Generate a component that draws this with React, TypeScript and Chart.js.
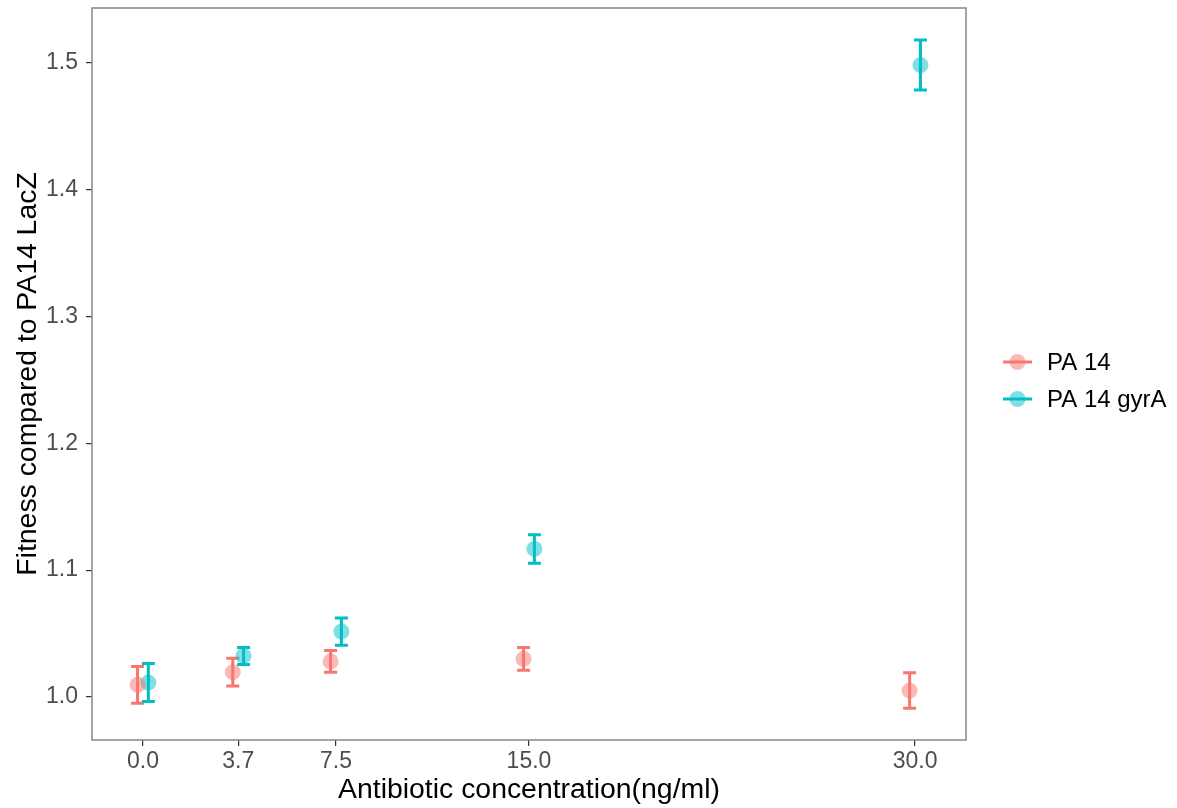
import React, { useEffect, useRef } from "react";
import { Chart, registerables } from "chart.js";
Chart.register(...registerables);

// ---- data ----
const concentrations = [0, 3.7, 7.5, 15, 30];
const xTickValues = [0, 3.7, 7.5, 15, 30];
const yTickValues = [1.0, 1.1, 1.2, 1.3, 1.4, 1.5];
const seriesNames = ["PA 14", "PA 14 gyrA"];
const pa14Mean = [1.0095, 1.0195, 1.028, 1.03, 1.005];
const pa14Err = [0.0145, 0.011, 0.0085, 0.009, 0.014];
const gyrAMean = [1.0113, 1.0323, 1.0515, 1.1167, 1.4984];
const gyrAErr = [0.015, 0.0067, 0.0107, 0.0112, 0.0197];
const dodge = [-0.21, 0.21];
const lineColors = ["#F8766D", "#00BFC4"];
const fillColors = ["rgba(248,118,109,0.5)", "rgba(0,191,196,0.5)"];

const FONT = "'Liberation Sans', Arial, Helvetica, sans-serif";

const errorBarPlugin = {
  id: "errorBars",
  beforeDatasetsDraw(chart: any) {
    const { ctx, scales } = chart;
    const xs = scales.x, ys = scales.y;
    chart.data.datasets.forEach((ds: any) => {
      ctx.save();
      ctx.strokeStyle = ds.errColor;
      ctx.lineWidth = 3;
      ctx.lineCap = "butt";
      ds.data.forEach((p: any, i: number) => {
        const e = ds.errors[i];
        const x = xs.getPixelForValue(p.x);
        const y1 = ys.getPixelForValue(p.y + e);
        const y2 = ys.getPixelForValue(p.y - e);
        const cw = 6.5;
        ctx.beginPath();
        ctx.moveTo(x, y1);
        ctx.lineTo(x, y2);
        ctx.moveTo(x - cw, y1);
        ctx.lineTo(x + cw, y1);
        ctx.moveTo(x - cw, y2);
        ctx.lineTo(x + cw, y2);
        ctx.stroke();
      });
      ctx.restore();
    });
  },
  afterDraw(chart: any) {
    const { ctx, chartArea: a } = chart;
    ctx.save();
    ctx.strokeStyle = "#888888";
    ctx.lineWidth = 1.5;
    ctx.strokeRect(a.left, a.top, a.right - a.left, a.bottom - a.top);
    // legend
    const lx = a.right + 37;
    const ly = [362, 399];
    seriesNames.forEach((name, i) => {
      const y = ly[i];
      ctx.strokeStyle = lineColors[i];
      ctx.lineWidth = 3;
      ctx.beginPath();
      ctx.moveTo(lx, y);
      ctx.lineTo(lx + 29, y);
      ctx.stroke();
      ctx.fillStyle = fillColors[i];
      ctx.beginPath();
      ctx.arc(lx + 14.5, y, 8, 0, Math.PI * 2);
      ctx.fill();
      ctx.fillStyle = "#000000";
      ctx.font = `24px ${FONT}`;
      ctx.textBaseline = "middle";
      ctx.textAlign = "left";
      ctx.fillText(name, lx + 44, y + 1);
    });
    ctx.restore();
  },
};

export default function App() {
  const ref = useRef<HTMLCanvasElement>(null);
  useEffect(() => {
    const means = [pa14Mean, gyrAMean];
    const errs = [pa14Err, gyrAErr];
    const chart = new Chart(ref.current as HTMLCanvasElement, {
      type: "scatter",
      data: {
        datasets: seriesNames.map((name, k) => ({
          label: name,
          data: concentrations.map((c, i) => ({ x: c + dodge[k], y: means[k][i] })),
          errors: errs[k],
          errColor: lineColors[k],
          backgroundColor: fillColors[k],
          borderWidth: 0,
          pointRadius: 8,
          pointHoverRadius: 8,
        })) as any,
      },
      options: {
        animation: false,
        responsive: false,
        devicePixelRatio: 1,
        layout: { padding: { left: 0, right: 211, top: 8, bottom: 0 } },
        plugins: { legend: { display: false }, tooltip: { enabled: false } },
        scales: {
          x: {
            type: "linear",
            min: -1.98,
            max: 31.98,
            afterBuildTicks: (s: any) => {
              s.ticks = xTickValues.map((v) => ({ value: v }));
            },
            afterFit: (s: any) => {
              s.height = 68;
              s.paddingLeft = 0;
              s.paddingRight = 0;
            },
            ticks: {
              autoSkip: false,
              maxRotation: 0,
              padding: 2,
              color: "#4d4d4d",
              font: { size: 23, family: FONT },
              callback: (v: any) => Number(v).toFixed(1),
            },
            grid: { drawOnChartArea: false, drawTicks: true, tickLength: 6, color: "#333333", lineWidth: 1.2 },
            border: { display: false },
            title: {
              display: true,
              text: "Antibiotic concentration(ng/ml)",
              color: "#000000",
              font: { size: 28.4, family: FONT },
              padding: { top: 0, bottom: 1 },
            },
          },
          y: {
            type: "linear",
            min: 0.966,
            max: 1.5434,
            afterBuildTicks: (s: any) => {
              s.ticks = yTickValues.map((v) => ({ value: v }));
            },
            afterFit: (s: any) => {
              s.width = 92;
              s.paddingTop = 0;
              s.paddingBottom = 0;
            },
            ticks: {
              padding: 8,
              color: "#4d4d4d",
              font: { size: 23, family: FONT },
              callback: (v: any) => Number(v).toFixed(1),
            },
            grid: { drawOnChartArea: false, drawTicks: true, tickLength: 6, color: "#333333", lineWidth: 1.2 },
            border: { display: false },
            title: {
              display: true,
              text: "Fitness compared to PA14 LacZ",
              color: "#000000",
              font: { size: 28.4, family: FONT },
              padding: { top: 11, bottom: 0 },
            },
          },
        },
      },
      plugins: [errorBarPlugin],
    });
    return () => chart.destroy();
  }, []);
  return (
    <div style={{ position: "absolute", left: 0, top: 0, width: 1177, height: 808 }}>
      <canvas ref={ref} width={1177} height={808} />
    </div>
  );
}
